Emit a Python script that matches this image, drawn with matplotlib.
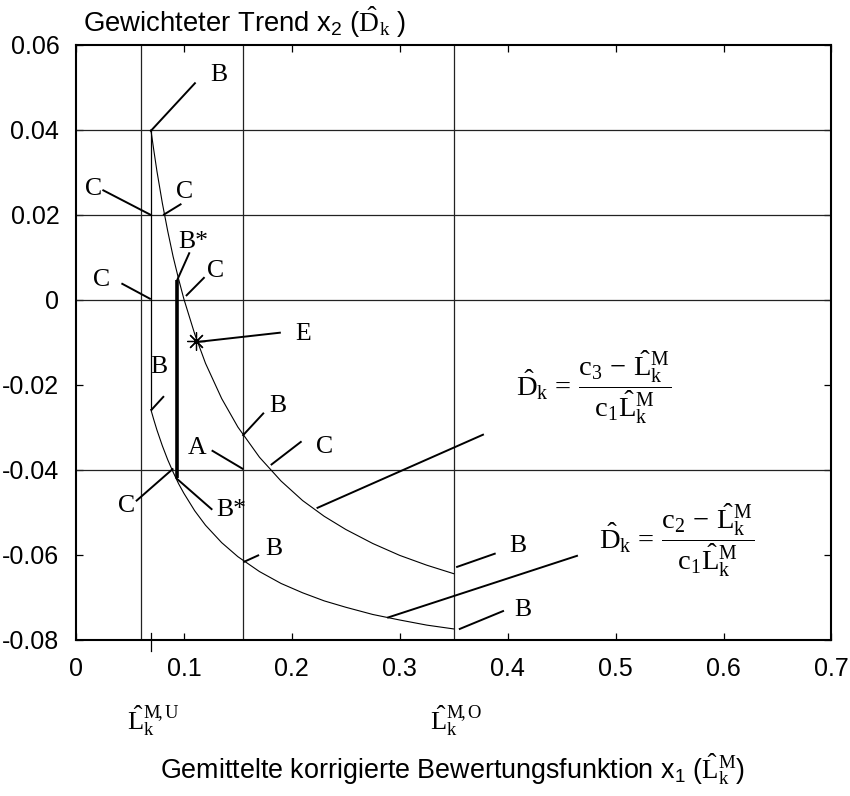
import numpy as np
import matplotlib
matplotlib.use("Agg")
import matplotlib.pyplot as plt

plt.rcParams["font.family"] = ["Liberation Sans", "DejaVu Sans"]
plt.rcParams["mathtext.fontset"] = "custom"
plt.rcParams["mathtext.rm"] = "Liberation Serif"
plt.rcParams["mathtext.it"] = "Liberation Serif:italic"
plt.rcParams["mathtext.bf"] = "Liberation Serif:bold"
plt.rcParams["mathtext.sf"] = "Liberation Sans"
plt.rcParams["axes.unicode_minus"] = False

# curve: D = (c3 - L) / (c1 L)  (upper)  and  (c2 - L) / (c1 L)  (lower)
L_vals = [0.0694, 0.072, 0.075, 0.08, 0.085, 0.09, 0.095, 0.1, 0.11, 0.12, 0.135,
          0.15, 0.17, 0.19, 0.21, 0.23, 0.25, 0.275, 0.3, 0.325, 0.35]
D_upper = [0.0400, 0.0354, 0.0303, 0.0228, 0.0162, 0.0102, 0.0050, 0.0002, -0.0080,
           -0.0149, -0.0232, -0.0299, -0.0370, -0.0426, -0.0472, -0.0509, -0.0540,
           -0.0573, -0.0601, -0.0624, -0.0644]
D_lower = [-0.0258, -0.0281, -0.0306, -0.0343, -0.0376, -0.0405, -0.0432, -0.0455,
           -0.0496, -0.0530, -0.0571, -0.0604, -0.0639, -0.0667, -0.0689, -0.0708,
           -0.0723, -0.0740, -0.0753, -0.0765, -0.0774]

# marked positions
L_U = 0.06
L_O = 0.35
L_mid = 0.155
L_start = 0.0694
L_bstar = 0.0932
D_bstar = [0.0047, -0.0420]
E_point = (0.111, -0.0096)

x_ticks = [0, 0.1, 0.2, 0.3, 0.4, 0.5, 0.6, 0.7]
x_labels = ["0", "0.1", "0.2", "0.3", "0.4", "0.5", "0.6", "0.7"]
y_ticks = [0.06, 0.04, 0.02, 0, -0.02, -0.04, -0.06, -0.08]
y_labels = ["0.06", "0.04", "0.02", "0", "-0.02", "-0.04", "-0.06", "-0.08"]
h_lines = [0.04, 0.02, 0, -0.04]

# letter labels: text, text position, pointer line start, pointer line end
labels = [
    ("B", (0.1327, 0.0535), (0.0694, 0.0398), (0.1102, 0.0510)),
    ("C", (0.0160, 0.0266), (0.0253, 0.0258), (0.0694, 0.0200)),
    ("C", (0.1009, 0.0260), (0.0969, 0.0225), (0.0815, 0.0201)),
    ("B*", (0.1086, 0.0143), (0.1049, 0.0110), (0.0938, 0.0047)),
    ("C", (0.1296, 0.0073), (0.1185, 0.0052), (0.1025, 0.0011)),
    ("C", (0.0238, 0.0053), (0.0429, 0.0038), (0.0685, 0.0003)),
    ("E", (0.2105, -0.0075), (0.1889, -0.0077), (0.1117, -0.0099)),
    ("B", (0.0769, -0.0153), (0.0809, -0.0228), (0.0701, -0.0258)),
    ("B", (0.1873, -0.0244), (0.1735, -0.0267), (0.1549, -0.0318)),
    ("A", (0.1123, -0.0342), (0.1265, -0.0355), (0.1543, -0.0397)),
    ("C", (0.2306, -0.0340), (0.2083, -0.0334), (0.1812, -0.0387)),
    ("C", (0.0469, -0.0480), (0.0562, -0.0472), (0.0895, -0.0398)),
    ("B*", (0.1441, -0.0488), (0.1256, -0.0492), (0.0932, -0.0420)),
    ("B", (0.1833, -0.0580), (0.1688, -0.0601), (0.1558, -0.0616)),
    ("B", (0.4096, -0.0574), (0.3880, -0.0597), (0.3531, -0.0628)),
    ("B", (0.4136, -0.0724), (0.3957, -0.0732), (0.3556, -0.0774)),
    ("", None, (0.2238, -0.0489), (0.3771, -0.0317)),
    ("", None, (0.2892, -0.0747), (0.4642, -0.0602)),
]

fig = plt.figure(figsize=(8.5, 7.96), dpi=100)
ax = fig.add_axes([0.0894, 0.1960, 0.8888, 0.7475])
ax.set_xlim(0, 0.7)
ax.set_ylim(-0.08, 0.06)

for y in h_lines:
    ax.axhline(y, color="#222222", lw=0.9)
for x in [L_U, L_mid, L_O]:
    ax.axvline(x, color="#222222", lw=0.9)

ax.plot(L_vals, D_upper, color="black", lw=0.8)
ax.plot(L_vals, D_lower, color="black", lw=0.8)
ax.plot([L_start, L_start], [D_upper[0], D_lower[0]], color="black", lw=0.9)
ax.plot([L_bstar, L_bstar], D_bstar, color="black", lw=2.6, solid_capstyle="butt")
ax.plot([L_start, L_start], [-0.0784, -0.0826], color="black", lw=0.9, clip_on=False)
ax.plot(*E_point, marker=(8, 2, 0), ms=13, mew=0.9, color="black")

serif = ["Liberation Serif", "DejaVu Serif"]
for txt, tpos, p0, p1 in labels:
    ax.plot([p0[0], p1[0]], [p0[1], p1[1]], color="black", lw=1.4)
    if txt:
        ax.annotate(txt, xy=tpos, xytext=(0, -6), textcoords="offset points",
                    ha="center", va="baseline", fontsize=18.5, family=serif)

f3 = r"$\hat{\mathrm{D}}_{\mathrm{k}}\,=\,\dfrac{\mathrm{c}_3\,-\,\hat{\mathrm{L}}_{\mathrm{k}}^{\mathrm{M}}}{\mathrm{c}_1\hat{\mathrm{L}}_{\mathrm{k}}^{\mathrm{M}}}$"
f2 = r"$\hat{\mathrm{D}}_{\mathrm{k}}\,=\,\dfrac{\mathrm{c}_2\,-\,\hat{\mathrm{L}}_{\mathrm{k}}^{\mathrm{M}}}{\mathrm{c}_1\hat{\mathrm{L}}_{\mathrm{k}}^{\mathrm{M}}}$"
ax.text(0.4074, -0.0207, f3, ha="left", va="center", fontsize=20.5)
ax.text(0.4845, -0.0565, f2, ha="left", va="center", fontsize=20.5)

ax.set_xticks(x_ticks, labels=x_labels)
ax.set_yticks(y_ticks, labels=y_labels)
ax.tick_params(direction="in", length=5, width=0.9, labelsize=18, pad=12,
               top=True, right=True)
for s in ax.spines.values():
    s.set_linewidth(1.5)

fig.text(0.0976, 0.960, r"Gewichteter Trend x$_\mathsf{2}$ ($\hat{\mathrm{D}}_{\mathrm{k}}$ )",
         ha="left", va="baseline", fontsize=19.8)
fig.text(0.532, 0.0226,
         r"Gemittelte korrigierte Bewertungsfunktion x$_\mathsf{1}$ ($\hat{\mathrm{L}}_{\mathrm{k}}^{\mathrm{M}}$)",
         ha="center", va="baseline", fontsize=19.4)
fig.text(0.180, 0.0829, r"$\hat{\mathrm{L}}_{\mathrm{k}}^{\mathrm{M}\!,\mathrm{U}}$",
         ha="center", va="baseline", fontsize=19)
fig.text(0.5365, 0.0829, r"$\hat{\mathrm{L}}_{\mathrm{k}}^{\mathrm{M}\!,\mathrm{O}}$",
         ha="center", va="baseline", fontsize=19)

fig.savefig("out.png", dpi=100)
